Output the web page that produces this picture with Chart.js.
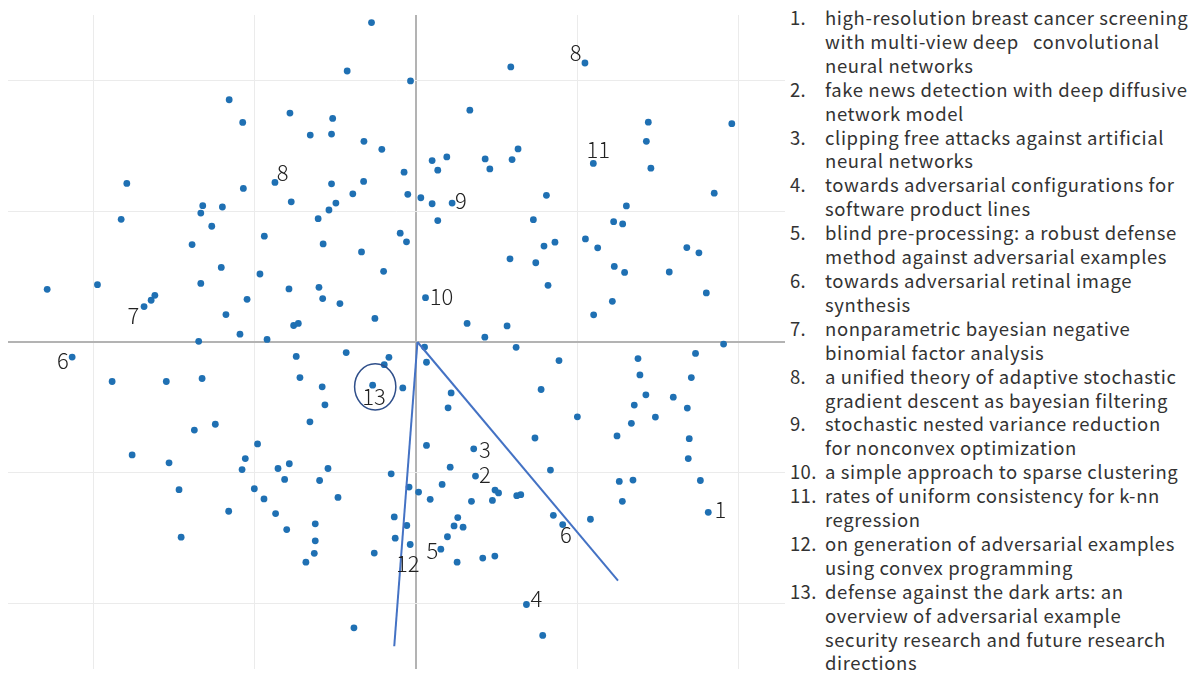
<!DOCTYPE html>
<html>
<head>
<meta charset="utf-8">
<title>Paper map</title>
<script src="https://cdn.jsdelivr.net/npm/chart.js@4.4.1/dist/chart.umd.min.js"></script>
<style>
  html, body { margin: 0; padding: 0; background: #fff; }
  #wrap { position: absolute; left: 0; top: 0; width: 790px; height: 673px; }
  #notes {
    position: absolute; left: 790px; top: 6px; width: 408px;
    margin: 0; padding: 0; list-style: none;
    font-family: "Noto Sans CJK JP", "Noto Sans", sans-serif;
    font-size: 18.5px; letter-spacing: 0.6px; line-height: 23.9px; color: #333;
  }
  #notes li { display: flex; }
  #notes .n { width: 35px; flex: none; letter-spacing: 0.3px; }
  #notes .t { white-space: pre; }
</style>
</head>
<body>
<div id="wrap"><canvas id="mapChart"></canvas></div>
<ol id="notes"></ol>
<script>
// paper positions (grid step = 1 unit on both axes)
const pointX = [
  -0.275, -0.426, -0.033, -1.158, -1.074, -0.781, -0.516, -0.655, -0.523, -0.322,
  -0.211, -0.073, -0.874, -0.523, -0.324, -0.391, -0.050, -0.773, -0.496, -0.539,
  -0.606, -0.940, -0.097, -1.793, -1.070, -1.322, -1.200, -1.334, -1.828, -1.266,
  -0.058, -0.575, -0.337, -1.388, -1.207, -0.967, -0.200, -2.287, -1.975, -1.334,
  -1.619, -1.642, -1.686, -1.047, -0.787, -0.601, -0.578, -0.471, -1.178, -1.091,
  -1.347, -0.923, -0.758, -0.729, -0.254, 0.060,
  0.335, 0.101, 0.192, 0.136, 0.430, 0.459, 0.031, 0.101, 0.225, 0.136,
  0.589, 1.049, 1.442, 1.960, 1.430, 0.634, 0.597, 1.101, 1.458, 1.851,
  0.810, 1.306, 0.729, 1.227, 1.283, 1.052, 0.584, 0.795, 0.863, 0.744,
  0.820, 1.128, 1.231, 1.295, 1.219, 1.103, 1.572, 1.681, 1.756, 1.802,
  1.909, 0.318, 0.428, 0.566,
  -2.132, -1.884, -1.548, -1.326, -1.374, -1.244, -0.982, -0.742, -0.432, -0.167,
  -0.196, -0.719, -0.581, -0.268, -0.081, -0.564, -0.657, -1.760, -1.531, -1.058,
  -1.078, -1.469, -1.002, -1.161, -1.456, -0.855, -0.785, -0.545, -0.814, -0.597,
  -0.942, -0.483, -0.870, -0.801, -0.624, -0.624, -0.630, -0.682, -0.258, -0.153,
  -0.042, -0.134, -0.056, -0.128, -0.035, -0.384,
  0.054, 0.066, 0.219, 0.200, 0.066, 0.359, 0.213, 0.370, 0.163, 0.017,
  0.089, 0.345, 0.491, 0.513, 0.475, 0.260, 0.237, 0.293, 0.196, 0.155,
  0.256, 0.415, 0.490, 0.622, 0.888, 0.777, 1.002, 0.739, 0.835, 0.626,
  0.651, 0.853, 0.911, 1.083, 1.378, 1.390, 1.427, 1.355, 1.486, 1.337,
  1.248, 1.735, 1.709, 1.597, 1.684, 1.696, 1.690, 1.262, 1.347, 1.765,
  1.281, 1.814, 0.686, 0.787
];
const pointY = [
  2.442, 2.072, 1.996, 1.852, 1.679, 1.750, 1.709, 1.582, 1.590, 1.534,
  1.473, 1.298, 1.220, 1.209, 1.228, 1.133, 1.129, 1.072, 1.062, 1.009,
  0.943, 0.809, 0.832, 1.212, 1.174, 1.042, 1.032, 0.986, 0.938, 0.885,
  0.766, 0.750, 0.689, 0.745, 0.570, 0.520, 0.540, 0.403, 0.438, 0.448,
  0.357, 0.319, 0.271, 0.326, 0.406, 0.418, 0.332, 0.294, 0.210, 0.060,
  0.005, 0.020, 0.126, 0.142, 0.180, 0.339,
  1.772, 1.387, 1.415, 1.314, 1.400, 1.323, 1.103, 1.057, 1.062, 0.928,
  2.103, 2.133, 1.681, 1.669, 1.534, 1.476, 1.395, 1.365, 1.329, 1.138,
  1.121, 1.040, 0.935, 0.920, 0.903, 0.788, 0.636, 0.733, 0.763, 0.606,
  0.433, 0.720, 0.578, 0.532, 0.311, 0.208, 0.535, 0.722, 0.682, 0.375,
  -0.016, 0.142, 0.037, 0.123,
  -0.115, -0.302, -0.302, -0.279, -0.673, -0.629, -0.779, -0.110, -0.081, -0.117,
  -0.173, -0.272, -0.343, -0.330, -0.351, -0.480, -0.610, -0.863, -0.924, -0.891,
  -0.975, -1.129, -1.122, -1.294, -1.492, -0.967, -0.931, -0.967, -1.051, -1.059,
  -1.200, -1.188, -1.312, -1.434, -1.390, -1.520, -1.616, -1.683, -1.614, -1.008,
  -1.109, -1.337, -1.403, -1.500, -1.548, -2.185,
  -0.039, -0.155, -0.389, -0.503, -0.791, -0.817, -0.957, -1.025, -1.089, -1.147,
  -1.203, -1.218, -1.132, -1.154, -1.211, -1.342, -1.406, -1.416, -1.489, -1.584,
  -1.683, -1.652, -1.637, -0.041, -0.142, -0.363, -0.572, -0.734, -0.979, -1.175,
  -1.167, -1.325, -1.396, -1.355, -0.127, -0.252, -0.404, -0.482, -0.574, -0.622,
  -0.718, -0.087, -0.272, -0.422, -0.505, -0.739, -0.891, -1.066, -1.056, -1.059,
  -1.218, -1.302, -2.007, -2.243
];

// numbered marks next to chosen papers
const markNames = ['8', '8', '11', '9', '7', '6', '10', '13', '3', '2', '12', '5', '6', '1', '4'];
const markX = [-0.826, 0.992, 1.132, 0.279, -1.752, -2.190, 0.159, -0.260, 0.428, 0.428, -0.050, 0.103, 0.930, 1.889, 0.748];
const markY = [1.298, 2.211, 1.473, 1.078, 0.202, -0.145, 0.347, -0.414, -0.823, -1.013, -1.693, -1.596, -1.470, -1.279, -1.964];

// two direction lines from the origin
const dirStartX = [0.01, 0.01];
const dirStartY = [0, 0];
const dirEndX = [1.254, -0.134];
const dirEndY = [-1.824, -2.326];

// ring round paper 13
const ringX = -0.252, ringY = -0.343, ringRX = 0.128, ringRY = 0.176;

const gridTicks = [-2, -1, 0, 1, 2];

const paperTitles = [
  ['high-resolution breast cancer screening', 'with multi-view deep   convolutional', 'neural networks'],
  ['fake news detection with deep diffusive', 'network model'],
  ['clipping free attacks against artificial', 'neural networks'],
  ['towards adversarial configurations for', 'software product lines'],
  ['blind pre-processing: a robust defense', 'method against adversarial examples'],
  ['towards adversarial retinal image', 'synthesis'],
  ['nonparametric bayesian negative', 'binomial factor analysis'],
  ['a unified theory of adaptive stochastic', 'gradient descent as bayesian filtering'],
  ['stochastic nested variance reduction', 'for nonconvex optimization'],
  ['a simple approach to sparse clustering'],
  ['rates of uniform consistency for k-nn', 'regression'],
  ['on generation of adversarial examples', 'using convex programming'],
  ['defense against the dark arts: an', 'overview of adversarial example', 'security research and future research', 'directions']
];

function buildNotes() {
  const list = document.getElementById('notes');
  paperTitles.forEach((lines, i) => {
    const li = document.createElement('li');
    const n = document.createElement('span');
    n.className = 'n';
    n.textContent = (i + 1) + '.';
    const t = document.createElement('span');
    t.className = 't';
    t.textContent = lines.join('\n');
    li.appendChild(n);
    li.appendChild(t);
    list.appendChild(li);
  });
}

const marksPlugin = {
  id: 'marks',
  afterDatasetsDraw(chart) {
    const { ctx, scales: { x, y } } = chart;
    ctx.save();
    const cx = x.getPixelForValue(ringX);
    const cy = y.getPixelForValue(ringY);
    const rx = Math.abs(x.getPixelForValue(ringX + ringRX) - cx);
    const ry = Math.abs(y.getPixelForValue(ringY + ringRY) - cy);
    ctx.beginPath();
    ctx.ellipse(cx, cy, rx, ry, 0, 0, Math.PI * 2);
    ctx.strokeStyle = '#2f4f8a';
    ctx.lineWidth = 1.5;
    ctx.stroke();

    ctx.fillStyle = '#222';
    ctx.font = '300 22px "Noto Sans CJK JP", "Noto Sans", sans-serif';
    ctx.textAlign = 'center';
    ctx.textBaseline = 'middle';
    markNames.forEach((t, i) => {
      ctx.fillText(t, x.getPixelForValue(markX[i]), y.getPixelForValue(markY[i]));
    });
    ctx.restore();
  }
};

function axisOptions(min, max) {
  return {
    type: 'linear',
    min,
    max,
    afterBuildTicks: scale => { scale.ticks = gridTicks.map(v => ({ value: v })); },
    ticks: { display: false },
    border: { display: false },
    grid: {
      drawTicks: false,
      color: c => c.tick && c.tick.value === 0 ? '#b3b3b3' : '#ebebeb',
      lineWidth: c => c.tick && c.tick.value === 0 ? 2 : 1
    }
  };
}

function buildChart() {
  const ctx = document.getElementById('mapChart').getContext('2d');
  const dirSets = dirEndX.map((ex, i) => ({
    data: [{ x: dirStartX[i], y: dirStartY[i] }, { x: ex, y: dirEndY[i] }],
    showLine: true,
    pointRadius: 0,
    borderColor: '#4472c4',
    borderWidth: 2,
    fill: false
  }));

  return new Chart(ctx, {
    type: 'scatter',
    data: {
      datasets: [
        ...dirSets,
        {
          data: pointX.map((v, i) => ({ x: v, y: pointY[i] })),
          backgroundColor: '#1f70b3',
          borderWidth: 0,
          pointRadius: 3.4
        }
      ]
    },
    options: {
      responsive: true,
      maintainAspectRatio: false,
      animation: false,
      layout: { padding: { left: 8, top: 15, right: 5, bottom: 1 } },
      plugins: {
        legend: { display: false },
        tooltip: { enabled: false }
      },
      scales: {
        x: axisOptions(-2.53, 2.29),
        y: axisOptions(-2.5, 2.5)
      }
    },
    plugins: [marksPlugin]
  });
}

document.addEventListener('DOMContentLoaded', () => {
  buildNotes();
  buildChart();
});
</script>
</body>
</html>
